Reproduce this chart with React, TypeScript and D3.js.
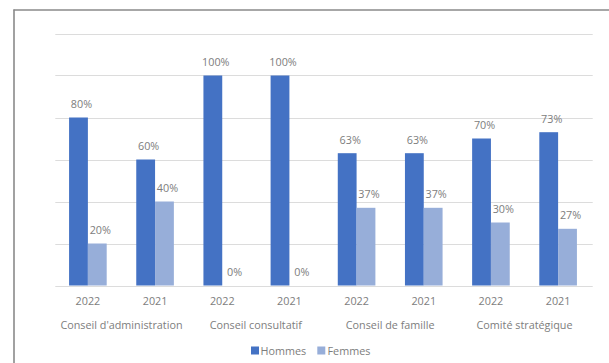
import React from "react";
import * as d3 from "d3";

const groups = ["Conseil d'administration", "Conseil consultatif", "Conseil de famille", "Comité stratégique"];
const years = ["2022", "2021"];
const hommes = [80, 60, 100, 100, 63, 63, 70, 73];
const femmes = [20, 40, 0, 0, 37, 37, 30, 27];
const seriesNames = ["Hommes", "Femmes"];
const colors = ["#4472C4", "#97AED9"];
const yTicks = [0, 20, 40, 60, 80, 100, 120];

const W = 609;
const H = 363;
const FONT = "'Open Sans', 'Noto Sans', sans-serif";
const FS = 10.8;
const TXT = "#7d7d7d";

export default function App() {
  const cats = groups.flatMap((g, gi) => years.map((y) => `${gi}-${y}`));
  const plotL = 55.3;
  const plotR = 592.7;
  const x = d3.scaleBand<string>().domain(cats).range([plotL - 1, plotR - 1]).paddingInner(0.44).paddingOuter(0.22);
  const xs = d3.scaleBand<string>().domain(seriesNames).range([0, x.bandwidth()]);
  const y = d3.scaleLinear().domain([0, 120]).range([285.5, 33.5]);
  const data = [hommes, femmes];

  return (
    <svg width={W} height={H} style={{ position: "absolute", left: 0, top: 0, background: "#fff" }} fontFamily={FONT}>
      <rect x={0} y={0} width={W} height={H} fill="#fff" />
      {/* frame */}
      <line x1={13.5} y1={10} x2={W} y2={10} stroke="#8a8a8a" strokeWidth={1.6} />
      <line x1={14} y1={9.5} x2={14} y2={H} stroke="#8a8a8a" strokeWidth={1.6} />
      {/* gridlines */}
      {yTicks.map((t) => (
        <line key={t} x1={plotL} x2={plotR} y1={Math.round(y(t)) + 0.5} y2={Math.round(y(t)) + 0.5} stroke="#dcdcdc" strokeWidth={1.2} />
      ))}
      {/* bars */}
      {cats.map((c, i) =>
        data.map((vals, si) => {
          const v = vals[i];
          const bx = (x(c) ?? 0) + (xs(seriesNames[si]) ?? 0);
          const bw = xs.bandwidth();
          return (
            <g key={`${c}-${si}`}>
              {v > 0 && (
                <rect x={bx} y={y(v)} width={bw} height={y(0) - y(v)} fill={colors[si]} />
              )}
              <text x={bx + bw / 2 + 3} y={y(v) - 9.5} textAnchor="middle" fontSize={FS} fill={TXT}>
                {`${v}%`}
              </text>
            </g>
          );
        })
      )}
      {/* year labels */}
      {cats.map((c, i) => (
        <text key={c} x={(x(c) ?? 0) + x.bandwidth() / 2} y={305} textAnchor="middle" fontSize={FS} fill={TXT}>
          {years[i % 2]}
        </text>
      ))}
      {/* group labels */}
      {groups.map((g, gi) => {
        const a = x(`${gi}-2022`) ?? 0;
        const b = (x(`${gi}-2021`) ?? 0) + x.bandwidth();
        return (
          <text key={g} x={(a + b) / 2} y={328.5} textAnchor="middle" fontSize={FS} fill={TXT}>
            {g}
          </text>
        );
      })}
      {/* legend */}
      <g>
        <rect x={251} y={346.5} width={8} height={8} fill={colors[0]} />
        <text x={260.5} y={354.5} fontSize={FS} fill={TXT}>{seriesNames[0]}</text>
        <rect x={317.3} y={346.5} width={8} height={8} fill={colors[1]} />
        <text x={327.5} y={354.5} fontSize={FS} fill={TXT}>{seriesNames[1]}</text>
      </g>
    </svg>
  );
}
